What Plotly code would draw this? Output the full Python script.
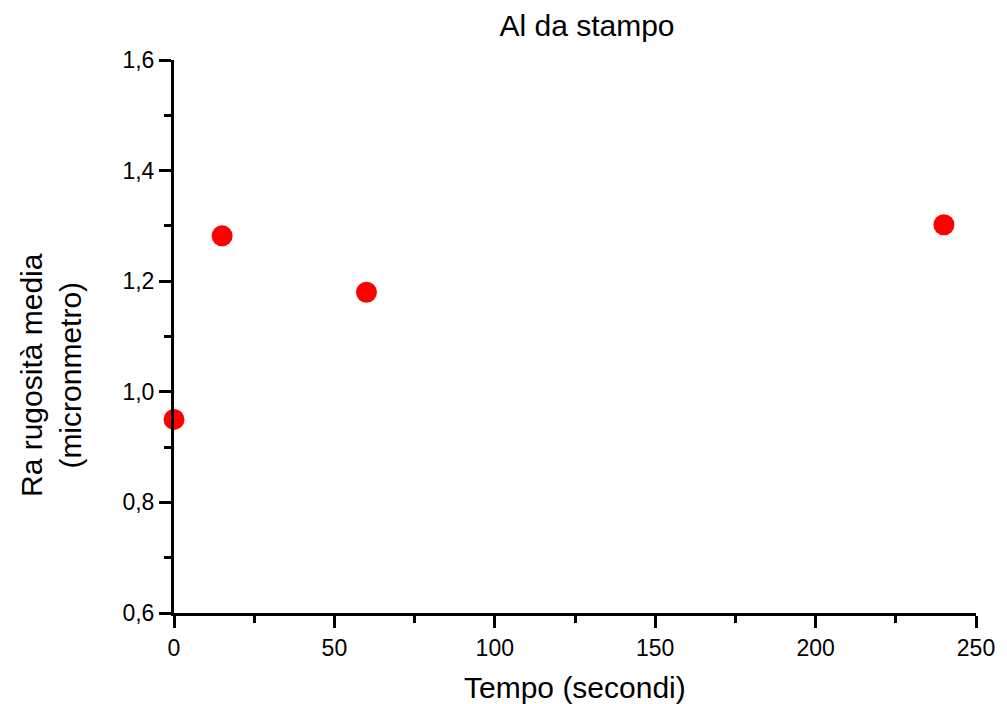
import plotly.graph_objects as go

tempo = [0, 15, 60, 240]
ra = [0.95, 1.282, 1.18, 1.302]
x_ticks = [0, 50, 100, 150, 200, 250]
y_ticks = [0.6, 0.8, 1.0, 1.2, 1.4, 1.6]

fig = go.Figure()
fig.add_trace(go.Scatter(x=tempo, y=ra, mode="markers",
                         marker=dict(color="#ff0000", size=21, line=dict(width=0)),
                         cliponaxis=False, showlegend=False))

font = "Liberation Sans, Arial, sans-serif"
# page is offset by the 8px default body margin; figure coords = page coords - 8
fig.update_layout(
    width=999, height=696,
    margin=dict(l=166, r=29, t=52, b=91),
    paper_bgcolor="white", plot_bgcolor="white",
    separators=",.",
    font=dict(family=font, color="black", size=23),
    title=dict(text="Al da stampo", x=579/999, xanchor="center", y=1-17/696, yanchor="middle",
               font=dict(size=30, family=font, color="black")),
    annotations=[
        dict(text="Tempo (secondi)", xref="paper", yref="paper", x=0.5, y=0,
             xanchor="center", yanchor="middle", yshift=-74, showarrow=False,
             font=dict(size=30, family=font, color="black")),
        dict(text="Ra rugosità media<br>(micronmetro)", xref="paper", yref="paper",
             x=0, y=(605-367)/553, xanchor="center", yanchor="middle", xshift=-123,
             textangle=-90, showarrow=False,
             font=dict(size=30, family=font, color="black")),
    ],
)
fig.update_xaxes(
    range=[0, 250], tickvals=x_ticks, showgrid=False, zeroline=False,
    showline=True, linecolor="black", linewidth=3,
    ticks="outside", ticklen=12, tickwidth=3, tickcolor="black",
    minor=dict(ticks="outside", ticklen=7, tickwidth=3, tickcolor="black", dtick=25),
    tickfont=dict(size=23),
)
fig.update_yaxes(
    range=[0.6, 1.6], tickvals=y_ticks, tickformat=".1f", showgrid=False, zeroline=False,
    showline=True, linecolor="black", linewidth=3,
    ticks="outside", ticklen=12, tickwidth=3, tickcolor="black",
    minor=dict(ticks="outside", ticklen=7, tickwidth=3, tickcolor="black", dtick=0.1),
    tickfont=dict(size=23), ticklabelstandoff=0,
)
fig.write_html("out.html")
